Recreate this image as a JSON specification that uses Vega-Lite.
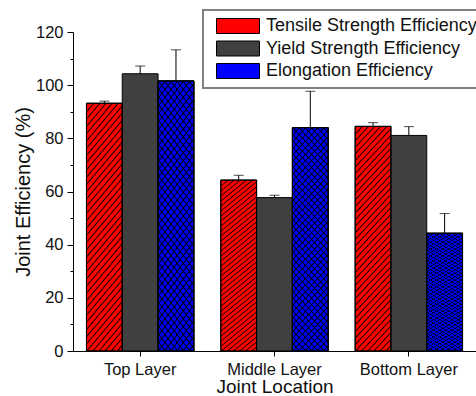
{
  "$schema": "https://vega.github.io/schema/vega-lite/v6.json",
  "width": 403,
  "height": 319,
  "autosize": "none",
  "padding": {"left": 73, "top": 32, "right": 0, "bottom": 45},
  "background": "white",
  "config": {
    "view": {"stroke": null},
    "font": "Liberation Sans",
    "axis": {"grid": false, "domainColor": "black", "tickColor": "black", "labelColor": "#111", "titleColor": "#111", "titleFontWeight": "normal", "labelFont": "Liberation Sans", "titleFont": "Liberation Sans"},
    "legend": {
      "orient": "none", "legendX": 130, "legendY": -22, "title": null,
      "padding": 7, "strokeColor": "#808080", "strokeWidth": 2, "fillColor": "white",
      "symbolType": "M-1,-1H4.733V1H-1Z", "symbolSize": 225,
      "symbolStrokeColor": "black", "symbolStrokeWidth": 1,
      "symbolOffset": 5, "labelOffset": 33, "labelFontSize": 18, "labelColor": "#111", "labelLimit": 400,
      "rowPadding": 2.5, "labelFont": "Liberation Sans"
    }
  },
  "data": {
    "values": [
      {"loc": "Top Layer", "series": "Tensile Strength Efficiency", "value": 93.2, "upper": 94.0},
      {"loc": "Top Layer", "series": "Yield Strength Efficiency", "value": 104.3, "upper": 107.2},
      {"loc": "Top Layer", "series": "Elongation Efficiency", "value": 101.6, "upper": 113.3},
      {"loc": "Middle Layer", "series": "Tensile Strength Efficiency", "value": 64.3, "upper": 66.1},
      {"loc": "Middle Layer", "series": "Yield Strength Efficiency", "value": 57.7, "upper": 58.6},
      {"loc": "Middle Layer", "series": "Elongation Efficiency", "value": 84.0, "upper": 97.7},
      {"loc": "Bottom Layer", "series": "Tensile Strength Efficiency", "value": 84.5, "upper": 85.9},
      {"loc": "Bottom Layer", "series": "Yield Strength Efficiency", "value": 81.1, "upper": 84.4},
      {"loc": "Bottom Layer", "series": "Elongation Efficiency", "value": 44.3, "upper": 51.7}
    ]
  },
  "encoding": {
    "x": {"field": "loc", "type": "nominal", "sort": ["Top Layer", "Middle Layer", "Bottom Layer"],
          "scale": {"paddingInner": 0, "paddingOuter": 0},
          "axis": {"orient": "bottom", "title": "Joint Location", "labelAngle": 0, "tickSize": 5, "labelFontSize": 16.5, "labelPadding": 5, "titleFontSize": 19, "titlePadding": 0}},
    "xOffset": {"field": "series", "type": "nominal",
                "sort": ["Tensile Strength Efficiency", "Yield Strength Efficiency", "Elongation Efficiency"],
                "scale": {"domain": ["Tensile Strength Efficiency", "Yield Strength Efficiency", "Elongation Efficiency"], "paddingInner": 0, "paddingOuter": 0.376}},
    "y": {"field": "value", "type": "quantitative",
          "scale": {"domain": [0, 120], "nice": false},
          "axis": {"orient": "left", "title": "Joint Efficiency (%)", "values": [0, 10, 20, 30, 40, 50, 60, 70, 80, 90, 100, 110, 120],
                   "labelExpr": "datum.value % 20 == 0 ? datum.label : ''",
                   "tickSize": {"condition": {"test": "datum.value % 20 != 0", "value": 3}, "value": 6},
                   "labelFontSize": 16.5, "labelPadding": 4, "titleFontSize": 20, "titlePadding": 2}}
  },
  "layer": [
    {
      "mark": {"type": "bar", "stroke": "black", "strokeWidth": 1},
      "encoding": {
        "fill": {"field": "series", "type": "nominal",
                 "sort": ["Tensile Strength Efficiency", "Yield Strength Efficiency", "Elongation Efficiency"],
                 "scale": {"domain": ["Tensile Strength Efficiency", "Yield Strength Efficiency", "Elongation Efficiency"], "range": ["#ff0000", "#404040", "#0000ff"]}}
      }
    },
    {
      "transform": [{"filter": "datum.series != 'Yield Strength Efficiency'"}],
      "mark": {"type": "bar", "stroke": "black", "strokeWidth": 1,
        "fill": {"gradient": "linear", "x1": 0, "y1": 0, "x2": 0.195, "y2": 1.138, "stops": [
          {"offset": 0, "color": "rgba(0,0,0,0)"}, {"offset": 0.005, "color": "#000"}, {"offset": 0.01, "color": "rgba(0,0,0,0)"},
          {"offset": 0.025, "color": "rgba(0,0,0,0)"}, {"offset": 0.03, "color": "#000"}, {"offset": 0.035, "color": "rgba(0,0,0,0)"},
          {"offset": 0.05, "color": "rgba(0,0,0,0)"}, {"offset": 0.055, "color": "#000"}, {"offset": 0.06, "color": "rgba(0,0,0,0)"},
          {"offset": 0.075, "color": "rgba(0,0,0,0)"}, {"offset": 0.08, "color": "#000"}, {"offset": 0.085, "color": "rgba(0,0,0,0)"},
          {"offset": 0.1, "color": "rgba(0,0,0,0)"}, {"offset": 0.105, "color": "#000"}, {"offset": 0.11, "color": "rgba(0,0,0,0)"},
          {"offset": 0.125, "color": "rgba(0,0,0,0)"}, {"offset": 0.13, "color": "#000"}, {"offset": 0.135, "color": "rgba(0,0,0,0)"},
          {"offset": 0.15, "color": "rgba(0,0,0,0)"}, {"offset": 0.155, "color": "#000"}, {"offset": 0.16, "color": "rgba(0,0,0,0)"},
          {"offset": 0.175, "color": "rgba(0,0,0,0)"}, {"offset": 0.18, "color": "#000"}, {"offset": 0.185, "color": "rgba(0,0,0,0)"},
          {"offset": 0.2, "color": "rgba(0,0,0,0)"}, {"offset": 0.205, "color": "#000"}, {"offset": 0.21, "color": "rgba(0,0,0,0)"},
          {"offset": 0.225, "color": "rgba(0,0,0,0)"}, {"offset": 0.23, "color": "#000"}, {"offset": 0.235, "color": "rgba(0,0,0,0)"},
          {"offset": 0.25, "color": "rgba(0,0,0,0)"}, {"offset": 0.255, "color": "#000"}, {"offset": 0.26, "color": "rgba(0,0,0,0)"},
          {"offset": 0.275, "color": "rgba(0,0,0,0)"}, {"offset": 0.28, "color": "#000"}, {"offset": 0.285, "color": "rgba(0,0,0,0)"},
          {"offset": 0.3, "color": "rgba(0,0,0,0)"}, {"offset": 0.305, "color": "#000"}, {"offset": 0.31, "color": "rgba(0,0,0,0)"},
          {"offset": 0.325, "color": "rgba(0,0,0,0)"}, {"offset": 0.33, "color": "#000"}, {"offset": 0.335, "color": "rgba(0,0,0,0)"},
          {"offset": 0.35, "color": "rgba(0,0,0,0)"}, {"offset": 0.355, "color": "#000"}, {"offset": 0.36, "color": "rgba(0,0,0,0)"},
          {"offset": 0.375, "color": "rgba(0,0,0,0)"}, {"offset": 0.38, "color": "#000"}, {"offset": 0.385, "color": "rgba(0,0,0,0)"},
          {"offset": 0.4, "color": "rgba(0,0,0,0)"}, {"offset": 0.405, "color": "#000"}, {"offset": 0.41, "color": "rgba(0,0,0,0)"},
          {"offset": 0.425, "color": "rgba(0,0,0,0)"}, {"offset": 0.43, "color": "#000"}, {"offset": 0.435, "color": "rgba(0,0,0,0)"},
          {"offset": 0.45, "color": "rgba(0,0,0,0)"}, {"offset": 0.455, "color": "#000"}, {"offset": 0.46, "color": "rgba(0,0,0,0)"},
          {"offset": 0.475, "color": "rgba(0,0,0,0)"}, {"offset": 0.48, "color": "#000"}, {"offset": 0.485, "color": "rgba(0,0,0,0)"},
          {"offset": 0.5, "color": "rgba(0,0,0,0)"}, {"offset": 0.505, "color": "#000"}, {"offset": 0.51, "color": "rgba(0,0,0,0)"},
          {"offset": 0.525, "color": "rgba(0,0,0,0)"}, {"offset": 0.53, "color": "#000"}, {"offset": 0.535, "color": "rgba(0,0,0,0)"},
          {"offset": 0.55, "color": "rgba(0,0,0,0)"}, {"offset": 0.555, "color": "#000"}, {"offset": 0.56, "color": "rgba(0,0,0,0)"},
          {"offset": 0.575, "color": "rgba(0,0,0,0)"}, {"offset": 0.58, "color": "#000"}, {"offset": 0.585, "color": "rgba(0,0,0,0)"},
          {"offset": 0.6, "color": "rgba(0,0,0,0)"}, {"offset": 0.605, "color": "#000"}, {"offset": 0.61, "color": "rgba(0,0,0,0)"},
          {"offset": 0.625, "color": "rgba(0,0,0,0)"}, {"offset": 0.63, "color": "#000"}, {"offset": 0.635, "color": "rgba(0,0,0,0)"},
          {"offset": 0.65, "color": "rgba(0,0,0,0)"}, {"offset": 0.655, "color": "#000"}, {"offset": 0.66, "color": "rgba(0,0,0,0)"},
          {"offset": 0.675, "color": "rgba(0,0,0,0)"}, {"offset": 0.68, "color": "#000"}, {"offset": 0.685, "color": "rgba(0,0,0,0)"},
          {"offset": 0.7, "color": "rgba(0,0,0,0)"}, {"offset": 0.705, "color": "#000"}, {"offset": 0.71, "color": "rgba(0,0,0,0)"},
          {"offset": 0.725, "color": "rgba(0,0,0,0)"}, {"offset": 0.73, "color": "#000"}, {"offset": 0.735, "color": "rgba(0,0,0,0)"},
          {"offset": 0.75, "color": "rgba(0,0,0,0)"}, {"offset": 0.755, "color": "#000"}, {"offset": 0.76, "color": "rgba(0,0,0,0)"},
          {"offset": 0.775, "color": "rgba(0,0,0,0)"}, {"offset": 0.78, "color": "#000"}, {"offset": 0.785, "color": "rgba(0,0,0,0)"},
          {"offset": 0.8, "color": "rgba(0,0,0,0)"}, {"offset": 0.805, "color": "#000"}, {"offset": 0.81, "color": "rgba(0,0,0,0)"},
          {"offset": 0.825, "color": "rgba(0,0,0,0)"}, {"offset": 0.83, "color": "#000"}, {"offset": 0.835, "color": "rgba(0,0,0,0)"},
          {"offset": 0.85, "color": "rgba(0,0,0,0)"}, {"offset": 0.855, "color": "#000"}, {"offset": 0.86, "color": "rgba(0,0,0,0)"},
          {"offset": 0.875, "color": "rgba(0,0,0,0)"}, {"offset": 0.88, "color": "#000"}, {"offset": 0.885, "color": "rgba(0,0,0,0)"},
          {"offset": 0.9, "color": "rgba(0,0,0,0)"}, {"offset": 0.905, "color": "#000"}, {"offset": 0.91, "color": "rgba(0,0,0,0)"},
          {"offset": 0.925, "color": "rgba(0,0,0,0)"}, {"offset": 0.93, "color": "#000"}, {"offset": 0.935, "color": "rgba(0,0,0,0)"},
          {"offset": 0.95, "color": "rgba(0,0,0,0)"}, {"offset": 0.955, "color": "#000"}, {"offset": 0.96, "color": "rgba(0,0,0,0)"},
          {"offset": 0.975, "color": "rgba(0,0,0,0)"}, {"offset": 0.98, "color": "#000"}, {"offset": 0.985, "color": "rgba(0,0,0,0)"},
          {"offset": 1, "color": "rgba(0,0,0,0)"}
        ]}}
    },
    {
      "transform": [{"filter": "datum.series == 'Elongation Efficiency'"}],
      "mark": {"type": "bar", "stroke": "black", "strokeWidth": 1,
        "fill": {"gradient": "linear", "x1": 0, "y1": 1, "x2": 0.195, "y2": -0.138, "stops": [
          {"offset": 0, "color": "rgba(0,0,0,0)"}, {"offset": 0.005, "color": "#000"}, {"offset": 0.01, "color": "rgba(0,0,0,0)"},
          {"offset": 0.025, "color": "rgba(0,0,0,0)"}, {"offset": 0.03, "color": "#000"}, {"offset": 0.035, "color": "rgba(0,0,0,0)"},
          {"offset": 0.05, "color": "rgba(0,0,0,0)"}, {"offset": 0.055, "color": "#000"}, {"offset": 0.06, "color": "rgba(0,0,0,0)"},
          {"offset": 0.075, "color": "rgba(0,0,0,0)"}, {"offset": 0.08, "color": "#000"}, {"offset": 0.085, "color": "rgba(0,0,0,0)"},
          {"offset": 0.1, "color": "rgba(0,0,0,0)"}, {"offset": 0.105, "color": "#000"}, {"offset": 0.11, "color": "rgba(0,0,0,0)"},
          {"offset": 0.125, "color": "rgba(0,0,0,0)"}, {"offset": 0.13, "color": "#000"}, {"offset": 0.135, "color": "rgba(0,0,0,0)"},
          {"offset": 0.15, "color": "rgba(0,0,0,0)"}, {"offset": 0.155, "color": "#000"}, {"offset": 0.16, "color": "rgba(0,0,0,0)"},
          {"offset": 0.175, "color": "rgba(0,0,0,0)"}, {"offset": 0.18, "color": "#000"}, {"offset": 0.185, "color": "rgba(0,0,0,0)"},
          {"offset": 0.2, "color": "rgba(0,0,0,0)"}, {"offset": 0.205, "color": "#000"}, {"offset": 0.21, "color": "rgba(0,0,0,0)"},
          {"offset": 0.225, "color": "rgba(0,0,0,0)"}, {"offset": 0.23, "color": "#000"}, {"offset": 0.235, "color": "rgba(0,0,0,0)"},
          {"offset": 0.25, "color": "rgba(0,0,0,0)"}, {"offset": 0.255, "color": "#000"}, {"offset": 0.26, "color": "rgba(0,0,0,0)"},
          {"offset": 0.275, "color": "rgba(0,0,0,0)"}, {"offset": 0.28, "color": "#000"}, {"offset": 0.285, "color": "rgba(0,0,0,0)"},
          {"offset": 0.3, "color": "rgba(0,0,0,0)"}, {"offset": 0.305, "color": "#000"}, {"offset": 0.31, "color": "rgba(0,0,0,0)"},
          {"offset": 0.325, "color": "rgba(0,0,0,0)"}, {"offset": 0.33, "color": "#000"}, {"offset": 0.335, "color": "rgba(0,0,0,0)"},
          {"offset": 0.35, "color": "rgba(0,0,0,0)"}, {"offset": 0.355, "color": "#000"}, {"offset": 0.36, "color": "rgba(0,0,0,0)"},
          {"offset": 0.375, "color": "rgba(0,0,0,0)"}, {"offset": 0.38, "color": "#000"}, {"offset": 0.385, "color": "rgba(0,0,0,0)"},
          {"offset": 0.4, "color": "rgba(0,0,0,0)"}, {"offset": 0.405, "color": "#000"}, {"offset": 0.41, "color": "rgba(0,0,0,0)"},
          {"offset": 0.425, "color": "rgba(0,0,0,0)"}, {"offset": 0.43, "color": "#000"}, {"offset": 0.435, "color": "rgba(0,0,0,0)"},
          {"offset": 0.45, "color": "rgba(0,0,0,0)"}, {"offset": 0.455, "color": "#000"}, {"offset": 0.46, "color": "rgba(0,0,0,0)"},
          {"offset": 0.475, "color": "rgba(0,0,0,0)"}, {"offset": 0.48, "color": "#000"}, {"offset": 0.485, "color": "rgba(0,0,0,0)"},
          {"offset": 0.5, "color": "rgba(0,0,0,0)"}, {"offset": 0.505, "color": "#000"}, {"offset": 0.51, "color": "rgba(0,0,0,0)"},
          {"offset": 0.525, "color": "rgba(0,0,0,0)"}, {"offset": 0.53, "color": "#000"}, {"offset": 0.535, "color": "rgba(0,0,0,0)"},
          {"offset": 0.55, "color": "rgba(0,0,0,0)"}, {"offset": 0.555, "color": "#000"}, {"offset": 0.56, "color": "rgba(0,0,0,0)"},
          {"offset": 0.575, "color": "rgba(0,0,0,0)"}, {"offset": 0.58, "color": "#000"}, {"offset": 0.585, "color": "rgba(0,0,0,0)"},
          {"offset": 0.6, "color": "rgba(0,0,0,0)"}, {"offset": 0.605, "color": "#000"}, {"offset": 0.61, "color": "rgba(0,0,0,0)"},
          {"offset": 0.625, "color": "rgba(0,0,0,0)"}, {"offset": 0.63, "color": "#000"}, {"offset": 0.635, "color": "rgba(0,0,0,0)"},
          {"offset": 0.65, "color": "rgba(0,0,0,0)"}, {"offset": 0.655, "color": "#000"}, {"offset": 0.66, "color": "rgba(0,0,0,0)"},
          {"offset": 0.675, "color": "rgba(0,0,0,0)"}, {"offset": 0.68, "color": "#000"}, {"offset": 0.685, "color": "rgba(0,0,0,0)"},
          {"offset": 0.7, "color": "rgba(0,0,0,0)"}, {"offset": 0.705, "color": "#000"}, {"offset": 0.71, "color": "rgba(0,0,0,0)"},
          {"offset": 0.725, "color": "rgba(0,0,0,0)"}, {"offset": 0.73, "color": "#000"}, {"offset": 0.735, "color": "rgba(0,0,0,0)"},
          {"offset": 0.75, "color": "rgba(0,0,0,0)"}, {"offset": 0.755, "color": "#000"}, {"offset": 0.76, "color": "rgba(0,0,0,0)"},
          {"offset": 0.775, "color": "rgba(0,0,0,0)"}, {"offset": 0.78, "color": "#000"}, {"offset": 0.785, "color": "rgba(0,0,0,0)"},
          {"offset": 0.8, "color": "rgba(0,0,0,0)"}, {"offset": 0.805, "color": "#000"}, {"offset": 0.81, "color": "rgba(0,0,0,0)"},
          {"offset": 0.825, "color": "rgba(0,0,0,0)"}, {"offset": 0.83, "color": "#000"}, {"offset": 0.835, "color": "rgba(0,0,0,0)"},
          {"offset": 0.85, "color": "rgba(0,0,0,0)"}, {"offset": 0.855, "color": "#000"}, {"offset": 0.86, "color": "rgba(0,0,0,0)"},
          {"offset": 0.875, "color": "rgba(0,0,0,0)"}, {"offset": 0.88, "color": "#000"}, {"offset": 0.885, "color": "rgba(0,0,0,0)"},
          {"offset": 0.9, "color": "rgba(0,0,0,0)"}, {"offset": 0.905, "color": "#000"}, {"offset": 0.91, "color": "rgba(0,0,0,0)"},
          {"offset": 0.925, "color": "rgba(0,0,0,0)"}, {"offset": 0.93, "color": "#000"}, {"offset": 0.935, "color": "rgba(0,0,0,0)"},
          {"offset": 0.95, "color": "rgba(0,0,0,0)"}, {"offset": 0.955, "color": "#000"}, {"offset": 0.96, "color": "rgba(0,0,0,0)"},
          {"offset": 0.975, "color": "rgba(0,0,0,0)"}, {"offset": 0.98, "color": "#000"}, {"offset": 0.985, "color": "rgba(0,0,0,0)"},
          {"offset": 1, "color": "rgba(0,0,0,0)"}
        ]}}
    },
    {
      "mark": {"type": "rule", "color": "black", "strokeWidth": 1},
      "encoding": {"y2": {"field": "upper"}}
    },
    {
      "mark": {"type": "tick", "orient": "horizontal", "color": "black", "size": 10, "thickness": 1},
      "encoding": {"y": {"field": "upper", "type": "quantitative"}}
    }
  ]
}
